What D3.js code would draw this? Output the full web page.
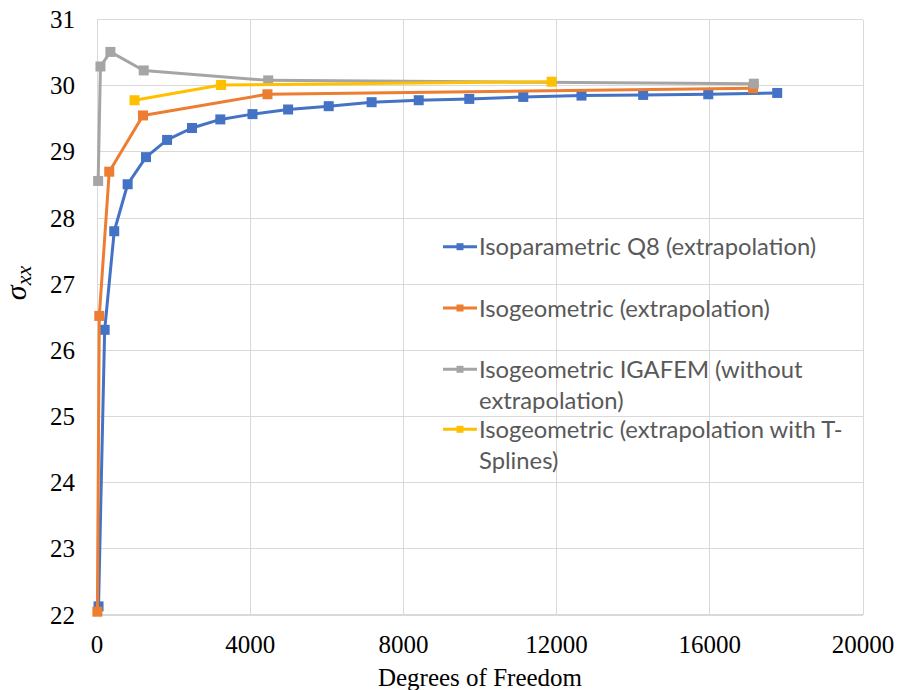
<!DOCTYPE html>
<html>
<head>
<meta charset="utf-8">
<script src="https://cdn.jsdelivr.net/npm/d3@7"></script>
<style>
  html, body { margin: 0; padding: 0; background: #fff; }
  svg { display: block; }
</style>
</head>
<body>
<svg id="chart" width="898" height="690"></svg>
<script>
// ---- Data ----
const seriesNames = [
  "Isoparametric Q8 (extrapolation)",
  "Isogeometric (extrapolation)",
  "Isogeometric IGAFEM (without extrapolation)",
  "Isogeometric (extrapolation with T-Splines)"
];
const legendLines = [
  ["Isoparametric Q8 (extrapolation)"],
  ["Isogeometric (extrapolation)"],
  ["Isogeometric IGAFEM (without", "extrapolation)"],
  ["Isogeometric (extrapolation with T-", "Splines)"]
];
const seriesColors = ["#4472C4", "#ED7D31", "#A5A5A5", "#FFC000"];

const q8X = [40, 200, 450, 800, 1280, 1830, 2480, 3220, 4060, 4990, 6050, 7170, 8400, 9720, 11130, 12650, 14260, 15960, 17760];
const q8Y = [22.13, 26.31, 27.80, 28.51, 28.92, 29.18, 29.36, 29.49, 29.57, 29.64, 29.69, 29.75, 29.78, 29.80, 29.83, 29.85, 29.86, 29.87, 29.89];

const igaX = [10, 60, 320, 1200, 4450, 17130];
const igaY = [22.05, 26.52, 28.70, 29.55, 29.87, 29.96];

const igafemX = [30, 90, 350, 1220, 4470, 17150];
const igafemY = [28.56, 30.29, 30.51, 30.23, 30.08, 30.03];

const tsplX = [980, 3240, 11870];
const tsplY = [29.78, 30.01, 30.06];

const xTicks = [0, 4000, 8000, 12000, 16000, 20000];
const yTicks = [22, 23, 24, 25, 26, 27, 28, 29, 30, 31];

const xTitle = "Degrees of Freedom";

const seriesX = [q8X, igaX, igafemX, tsplX];
const seriesY = [q8Y, igaY, igafemY, tsplY];

// ---- Layout ----
const svg = d3.select("#chart");
const plot = { left: 97, right: 863, top: 19.5, bottom: 615 };

const x = d3.scaleLinear().domain([0, 20000]).range([plot.left, plot.right]);
const y = d3.scaleLinear().domain([22, 31]).range([plot.bottom, plot.top]);

const serif = "Liberation Serif";
const sans = "Lato";

// Gridlines
const gx = svg.append("g").attr("class", "grid-x");
gx.selectAll("line").data(xTicks).join("line")
  .attr("x1", d => x(d)).attr("x2", d => x(d))
  .attr("y1", plot.top).attr("y2", plot.bottom)
  .attr("stroke", "#d9d9d9").attr("stroke-width", 1).attr("shape-rendering", "crispEdges");

const gy = svg.append("g").attr("class", "grid-y");
gy.selectAll("line").data(yTicks).join("line")
  .attr("x1", plot.left).attr("x2", plot.right)
  .attr("y1", d => y(d)).attr("y2", d => y(d))
  .attr("stroke", "#d9d9d9").attr("stroke-width", d => d === 22 ? 2 : 1).attr("shape-rendering", "crispEdges");

// Tick labels (positioned from the scales)
const fmt = d3.format("d");
svg.append("g").attr("class", "x-labels")
  .selectAll("text").data(xTicks).join("text")
  .attr("x", d => x(d)).attr("y", plot.bottom + 38)
  .attr("text-anchor", "middle")
  .attr("font-family", serif).attr("font-size", 25).attr("fill", "#000")
  .text(fmt);

svg.append("g").attr("class", "y-labels")
  .selectAll("text").data(yTicks).join("text")
  .attr("x", plot.left - 22).attr("y", d => y(d))
  .attr("dy", "0.34em")
  .attr("text-anchor", "end")
  .attr("font-family", serif).attr("font-size", 25).attr("fill", "#000")
  .text(fmt);

// Axis titles
svg.append("text")
  .attr("x", (plot.left + plot.right) / 2).attr("y", 686)
  .attr("text-anchor", "middle")
  .attr("font-family", serif).attr("font-size", 25).attr("fill", "#000")
  .text(xTitle);

const yt = svg.append("text")
  .attr("transform", "translate(26, 283) rotate(-90)")
  .attr("text-anchor", "middle")
  .attr("font-family", serif).attr("font-style", "italic").attr("fill", "#000");
yt.append("tspan").attr("font-size", 30).text("σ");
yt.append("tspan").attr("font-size", 22).attr("dy", 5).text("xx");

// Lines
const line = d3.line().x(d => x(d[0])).y(d => y(d[1]));
const seriesData = seriesX.map((xs, i) => xs.map((v, j) => [v, seriesY[i][j]]));

const gs = svg.append("g").attr("class", "series");
seriesData.forEach((data, i) => {
  const g = gs.append("g");
  g.append("path").datum(data)
    .attr("d", line)
    .attr("fill", "none")
    .attr("stroke", seriesColors[i])
    .attr("stroke-width", 3)
    .attr("stroke-linejoin", "round");
  g.selectAll("rect").data(data).join("rect")
    .attr("x", d => x(d[0]) - 5).attr("y", d => y(d[1]) - 5)
    .attr("width", 10).attr("height", 10)
    .attr("fill", seriesColors[i]);
});

// Legend
const legRows = [246.7, 308, 369.3, 429.3];
const lineGap = 31;
const leg = svg.append("g").attr("class", "legend");
legendLines.forEach((lines, i) => {
  const cy = legRows[i];
  leg.append("line")
    .attr("x1", 443).attr("x2", 477).attr("y1", cy).attr("y2", cy)
    .attr("stroke", seriesColors[i]).attr("stroke-width", 3);
  leg.append("rect")
    .attr("x", 460 - 3.5).attr("y", cy - 3.5).attr("width", 7).attr("height", 7)
    .attr("fill", seriesColors[i]);
  lines.forEach((t, k) => {
    leg.append("text")
      .attr("x", 479).attr("y", cy + k * lineGap)
      .attr("dy", "0.36em")
      .attr("font-family", sans).attr("font-size", 23.8).attr("fill", "#595959")
      .text(t);
  });
});
</script>
</body>
</html>
